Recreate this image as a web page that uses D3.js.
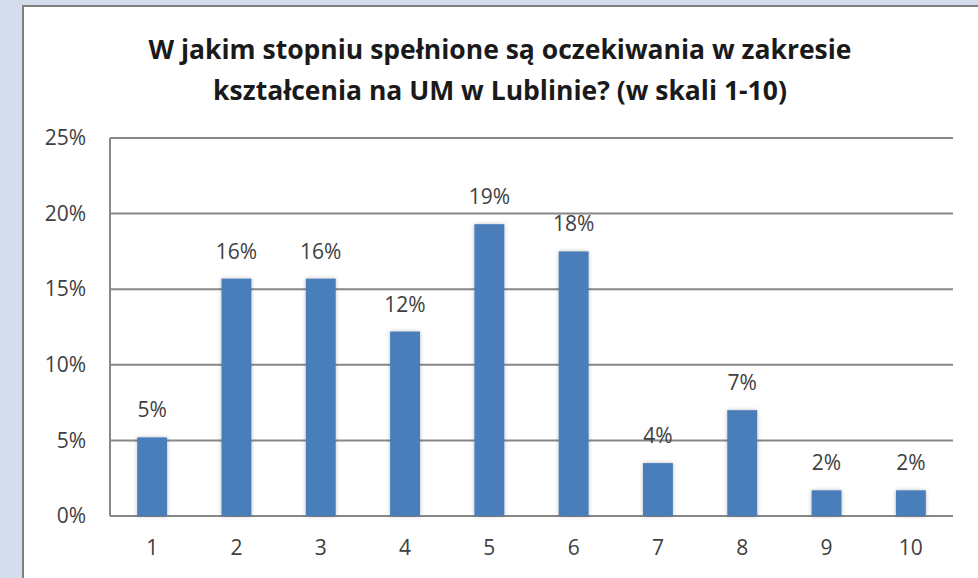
<!DOCTYPE html>
<html>
<head>
<meta charset='utf-8'>
<script src='https://d3js.org/d3.v7.min.js'></script>
<style>
body { margin: 0; background: #d3ddec; }
text { font-family: 'Open Sans', sans-serif; }
</style>
</head>
<body>
<div id="chart"></div>
<script>
var categories = ['1', '2', '3', '4', '5', '6', '7', '8', '9', '10'];
var values = [5.2, 15.7, 15.7, 12.2, 19.3, 17.5, 3.5, 7.0, 1.7, 1.7];
var labels = ['5%', '16%', '16%', '12%', '19%', '18%', '4%', '7%', '2%', '2%'];
var yTicks = [0, 5, 10, 15, 20, 25];
var titleLines = ['W jakim stopniu spełnione są oczekiwania w zakresie',
                  'kształcenia na UM w Lublinie? (w skali 1-10)'];

var W = 978, H = 578;
var margin = {top: 138, right: 25, bottom: 62, left: 110};
var width = W - margin.left - margin.right,
    height = H - margin.top - margin.bottom;

var svg = d3.select('#chart').append('svg')
  .attr('width', W).attr('height', H);

var defs = svg.append('defs');
var f = defs.append('filter').attr('id', 'shadow')
  .attr('x', '-30%').attr('y', '-10%').attr('width', '160%').attr('height', '120%');
f.append('feGaussianBlur').attr('in', 'SourceAlpha').attr('stdDeviation', 2).attr('result', 'b');
f.append('feComponentTransfer').attr('in', 'b').attr('result', 'c')
  .append('feFuncA').attr('type', 'linear').attr('slope', 0.25);
var m = f.append('feMerge');
m.append('feMergeNode').attr('in', 'c');
m.append('feMergeNode').attr('in', 'SourceGraphic');

// panel
svg.append('rect').attr('x', 23).attr('y', 6).attr('width', W).attr('height', H)
  .attr('fill', '#fff').attr('stroke', '#7f7f7f').attr('stroke-width', 2);

svg.append('g').selectAll('text').data(titleLines).enter().append('text')
  .attr('x', 500).attr('y', function(d, i) { return 59 + i * 41; })
  .attr('text-anchor', 'middle')
  .style('font-size', '26.5px').style('font-weight', 'bold').style('fill', '#1a1a1a')
  .text(function(d) { return d; });

var g = svg.append('g').attr('transform', 'translate(' + margin.left + ',' + margin.top + ')');

var x = d3.scaleBand().domain(categories).range([0, width]).paddingInner(0.645).paddingOuter(0.3225);
var y = d3.scaleLinear().domain([0, 25]).range([height, 0]);

g.append('g').selectAll('line').data(yTicks).enter().append('line')
  .attr('x1', 0).attr('x2', width)
  .attr('y1', function(d) { return y(d); }).attr('y2', function(d) { return y(d); })
  .style('stroke', '#878787').style('stroke-width', 2);

g.append('line').attr('x1', 0).attr('x2', 0).attr('y1', 0).attr('y2', height)
  .style('stroke', '#878787').style('stroke-width', 2);

var yAxis = g.append('g').call(d3.axisLeft(y).tickValues(yTicks)
  .tickFormat(function(d) { return d + '%'; }).tickSize(0).tickPadding(24));
yAxis.select('.domain').remove();
yAxis.selectAll('text').style('font-size', '21px').style('fill', '#404040')
  .style('font-family', "'Open Sans', sans-serif");

var xAxis = g.append('g').attr('transform', 'translate(0,' + height + ')')
  .call(d3.axisBottom(x).tickSize(0).tickPadding(24));
xAxis.select('.domain').remove();
xAxis.selectAll('text').style('font-size', '21px').style('fill', '#404040')
  .style('font-family', "'Open Sans', sans-serif");

g.append('g').selectAll('rect').data(values).enter().append('rect')
  .attr('x', function(d, i) { return x(categories[i]); })
  .attr('width', x.bandwidth())
  .attr('y', function(d) { return y(d); })
  .attr('height', function(d) { return height - y(d); })
  .style('fill', '#4a7ebb')
  .attr('filter', 'url(#shadow)');

g.append('g').selectAll('text').data(values).enter().append('text')
  .attr('x', function(d, i) { return x(categories[i]) + x.bandwidth() / 2; })
  .attr('y', function(d) { return y(d) - 20; })
  .attr('text-anchor', 'middle')
  .style('font-size', '21px').style('fill', '#404040')
  .text(function(d, i) { return labels[i]; });
</script>
</body>
</html>
